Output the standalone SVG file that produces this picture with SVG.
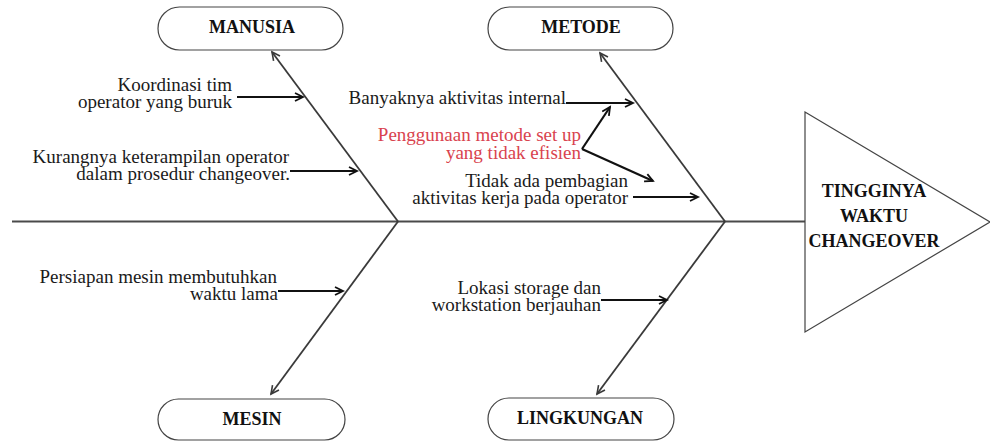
<svg xmlns="http://www.w3.org/2000/svg" width="990" height="441" viewBox="0 0 990 441">
<style>
text{font-family:'Liberation Serif','Tinos','DejaVu Serif',serif}
.lbl{font-size:19px;fill:#1a1a1a;text-anchor:end}
.red{fill:#d9434e}
.cat{font-size:18px;font-weight:bold;fill:#111;text-anchor:middle}
.box{fill:#fff;stroke:#444;stroke-width:1.2}
.bone{stroke:#3a3a3a;stroke-width:1.8;fill:none}
.arr{stroke:#111;stroke-width:2.2;fill:none}
</style>
<defs>
<marker id="ah" markerUnits="userSpaceOnUse" markerWidth="12" markerHeight="12" refX="9" refY="5" orient="auto">
<path d="M1,1 L9,5 L1,9" fill="none" stroke="#111" stroke-width="1.8"/>
</marker>
<marker id="ahb" markerUnits="userSpaceOnUse" markerWidth="12" markerHeight="12" refX="9" refY="5" orient="auto">
<path d="M1,1 L9,5 L1,9" fill="none" stroke="#3a3a3a" stroke-width="1.6"/>
</marker>
</defs>
<g id="connectors">
<line x1="12" y1="221.5" x2="805" y2="221.5" stroke="#4a4a4a" stroke-width="2.2"/>
<line class="bone" x1="398" y1="221.5" x2="272" y2="52" marker-end="url(#ahb)"/>
<line class="bone" x1="398" y1="221.5" x2="271" y2="394" marker-end="url(#ahb)"/>
<line class="bone" x1="725" y1="221.5" x2="600" y2="53" marker-end="url(#ahb)"/>
<line class="bone" x1="725" y1="221.5" x2="597" y2="394" marker-end="url(#ahb)"/>
<line class="arr" x1="237" y1="97" x2="303" y2="97" marker-end="url(#ah)"/>
<line class="arr" x1="290" y1="171" x2="357" y2="171" marker-end="url(#ah)"/>
<line class="arr" x1="566" y1="103" x2="633" y2="103" marker-end="url(#ah)"/>
<line class="arr" x1="582" y1="149" x2="610" y2="107" marker-end="url(#ah)"/>
<line class="arr" x1="582" y1="149" x2="653" y2="181" marker-end="url(#ah)"/>
<line class="arr" x1="633" y1="197" x2="698" y2="197" marker-end="url(#ah)"/>
<line class="arr" x1="278" y1="291" x2="343" y2="291" marker-end="url(#ah)"/>
<line class="arr" x1="601" y1="300" x2="667" y2="300" marker-end="url(#ah)"/>
</g>
<g id="head">
<polygon points="805,112 990,222 805,332" fill="#fff" stroke="#444" stroke-width="1.2"/>
<text class="cat" x="874" y="197">TINGGINYA</text>
<text class="cat" x="874" y="222">WAKTU</text>
<text class="cat" x="874" y="247">CHANGEOVER</text>
</g>
<g id="manusia">
<rect class="box" x="158" y="7" width="185" height="43" rx="21.5"/>
<text class="cat" x="252" y="33">MANUSIA</text>
</g>
<g id="metode">
<rect class="box" x="488" y="7" width="185" height="43" rx="21.5"/>
<text class="cat" x="581" y="33">METODE</text>
</g>
<g id="mesin">
<rect class="box" x="158" y="399" width="187" height="41" rx="20.5"/>
<text class="cat" x="252" y="425">MESIN</text>
</g>
<g id="lingkungan">
<rect class="box" x="488" y="398" width="186" height="42" rx="21"/>
<text class="cat" x="580" y="424">LINGKUNGAN</text>
</g>
<g id="cause-koordinasi">
<text class="lbl" x="232" y="91">Koordinasi tim</text>
<text class="lbl" x="232" y="108">operator yang buruk</text>
</g>
<g id="cause-kurangnya">
<text class="lbl" x="289" y="163">Kurangnya keterampilan operator</text>
<text class="lbl" x="290" y="180">dalam prosedur changeover.</text>
</g>
<g id="cause-banyaknya">
<text class="lbl" x="566" y="104">Banyaknya aktivitas internal</text>
</g>
<g id="cause-penggunaan">
<text class="lbl red" x="581" y="141">Penggunaan metode set up</text>
<text class="lbl red" x="581" y="159">yang tidak efisien</text>
</g>
<g id="cause-tidak">
<text class="lbl" x="628" y="187">Tidak ada pembagian</text>
<text class="lbl" x="628" y="204">aktivitas kerja pada operator</text>
</g>
<g id="cause-persiapan">
<text class="lbl" x="277" y="283">Persiapan mesin membutuhkan</text>
<text class="lbl" x="278" y="300">waktu lama</text>
</g>
<g id="cause-lokasi">
<text class="lbl" x="601" y="294">Lokasi storage dan</text>
<text class="lbl" x="601" y="311">workstation berjauhan</text>
</g>
</svg>
